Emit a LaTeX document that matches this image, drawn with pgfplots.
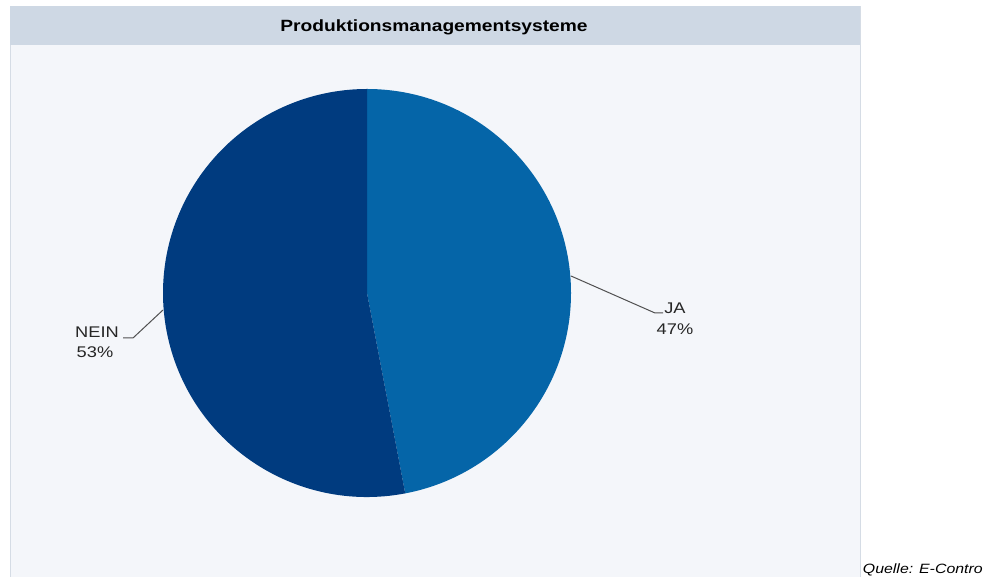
\documentclass[border=0pt]{standalone}
\usepackage{fontspec}
\setmainfont[FakeStretch=1.18]{Liberation Sans}
\usepackage{pgfplots}
\usepackage{pgfplotstable}
\pgfplotsset{compat=1.18}

\definecolor{jacol}{HTML}{0565A8}
\definecolor{neincol}{HTML}{003B7F}
\definecolor{panelbg}{HTML}{F4F6FA}
\definecolor{titlebg}{HTML}{CED8E4}
\definecolor{panelborder}{HTML}{D5DCE5}
\definecolor{leader}{HTML}{505050}

\pgfplotstableread{
label value
JA 47
NEIN 53
}\piedata
\pgfplotstablegetelem{0}{value}\of\piedata
\edef\vja{\pgfplotsretval}
\pgfplotstablegetelem{1}{value}\of\piedata
\edef\vnein{\pgfplotsretval}

\begin{document}
\begin{tikzpicture}
\useasboundingbox (0,0) rectangle (738pt,432.75pt);
\begin{axis}[at={(0,0)}, anchor=south west, scale only axis,
  width=738pt, height=432.75pt,
  xmin=0, xmax=984, ymin=0, ymax=577, hide axis, clip=false]
% panel
\fill[panelbg, draw=panelborder] (axis cs:10,-5) rectangle (axis cs:860,571);
\fill[titlebg] (axis cs:10,532) rectangle (axis cs:860,571);
\node[anchor=base, font=\bfseries\fontsize{12.2}{14}\selectfont] at (axis cs:434,545) {Produktionsmanagementsysteme};
% pie
\fill[jacol] (axis cs:367,284) -- ++(90:153pt) arc[start angle=90, end angle={90-3.6*\vja}, radius=153pt] -- cycle;
\fill[neincol] (axis cs:367,284) -- ++({90-3.6*\vja}:153pt) arc[start angle={90-3.6*\vja}, end angle={90-3.6*\vja-3.6*\vnein}, radius=153pt] -- cycle;
% leader lines
\draw[leader, line width=0.75pt] (axis cs:571,301) -- (axis cs:655,264) -- (axis cs:663,264);
\draw[leader, line width=0.75pt] (axis cs:163,267) -- (axis cs:133,239) -- (axis cs:123,239);
% labels
\node[anchor=base, font=\fontsize{11.6}{14}\selectfont, text=black!85] at (axis cs:675,263) {JA};
\node[anchor=base, font=\fontsize{11.6}{14}\selectfont, text=black!85] at (axis cs:675,242) {\vja\%};
\node[anchor=base, font=\fontsize{11.6}{14}\selectfont, text=black!85] at (axis cs:97,239) {NEIN};
\node[anchor=base, font=\fontsize{11.6}{14}\selectfont, text=black!85] at (axis cs:95,219) {\vnein\%};
% source
\node[anchor=base east, inner sep=0pt, font=\itshape\fontsize{10.1}{12}\selectfont] at (axis cs:983,3) {Quelle: E-Contro};
\end{axis}
\end{tikzpicture}
\end{document}
